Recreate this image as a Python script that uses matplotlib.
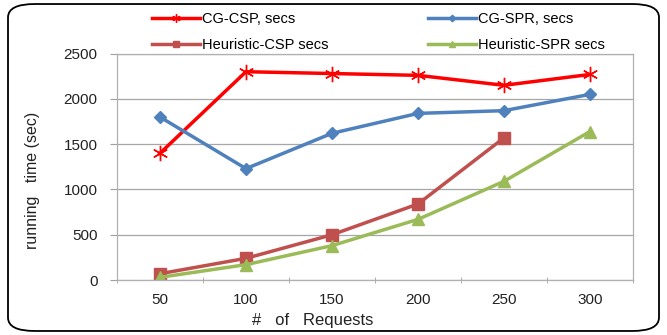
import matplotlib.pyplot as plt
from matplotlib.patches import FancyBboxPatch

plt.rcParams['font.family'] = ['Liberation Sans', 'DejaVu Sans']

requests = ['50', '100', '150', '200', '250', '300']
cg_csp = [1400, 2300, 2280, 2260, 2150, 2270]
cg_spr = [1800, 1230, 1620, 1840, 1870, 2050]
heur_csp = [70, 240, 500, 840, 1570]
heur_spr = [30, 170, 380, 670, 1090, 1640]

fig = plt.figure(figsize=(6.67, 3.35), dpi=100)
ax = fig.add_axes([0.1754, 0.164, 0.7736, 0.676])

x = list(range(len(requests)))
l1, = ax.plot(x, cg_csp, color='#FF0000', lw=2.5, marker=(6, 2, 0), ms=11,
              mew=1.0, label='CG-CSP, secs')
l2, = ax.plot(x, cg_spr, color='#4F81BD', lw=2.5, marker='D', ms=6,
              label='CG-SPR, secs')
l3, = ax.plot(x[:len(heur_csp)], heur_csp, color='#C0504D', lw=2.5, marker='s',
              ms=8, label='Heuristic-CSP secs')
l4, = ax.plot(x, heur_spr, color='#9BBB59', lw=2.5, marker='^', ms=8,
              label='Heuristic-SPR secs')

ax.set_xlim(-0.5, 5.5)
ax.set_ylim(0, 2500)
ax.set_yticks(range(0, 2501, 500))
ax.set_xticks(x)
ax.set_xticklabels(requests)
ax.set_xticks([i - 0.5 for i in range(7)], minor=True)
ax.tick_params(axis='x', which='major', length=0, pad=9, labelsize=11, colors='#222222')
ax.tick_params(axis='x', which='minor', length=4, color='#A0A0A0', direction='inout')
ax.tick_params(axis='y', length=5, color='#A0A0A0', pad=9, labelsize=11, labelcolor='#222222')
ax.grid(axis='y', color='#A6A6A6', lw=0.9)
ax.set_axisbelow(True)
for side in ['left', 'bottom', 'right', 'top']:
    ax.spines[side].set_color('#B0B0B0')
    ax.spines[side].set_linewidth(0.9)

ax.set_xlabel('#   of   Requests', fontsize=12, color='#222222')
ax.xaxis.set_label_coords(0.38, -0.145)
ax.set_ylabel('running   time (sec)', fontsize=11.5, color='#222222')
ax.yaxis.set_label_coords(-0.15, 0.44)

legend_kw = dict(loc='upper left', frameon=False, fontsize=10.5, handlelength=3.3,
                 handletextpad=0.15, labelspacing=0.85, borderpad=0,
                 borderaxespad=0, markerscale=0.55)
fig.legend([l1, l3], ['CG-CSP, secs', 'Heuristic-CSP secs'],
           bbox_to_anchor=(152 / 667, 0.965), **legend_kw)
fig.legend([l2, l4], ['CG-SPR, secs', 'Heuristic-SPR secs'],
           bbox_to_anchor=(428 / 667, 0.965), **legend_kw)

# rounded outline around the whole chart
fig.patches.append(FancyBboxPatch((0.012, 0.012), 0.976, 0.976,
                                  boxstyle='round,pad=0,rounding_size=0.04',
                                  transform=fig.transFigure, fill=False,
                                  edgecolor='black', lw=1.3))

fig.savefig('out.png', dpi=100)
